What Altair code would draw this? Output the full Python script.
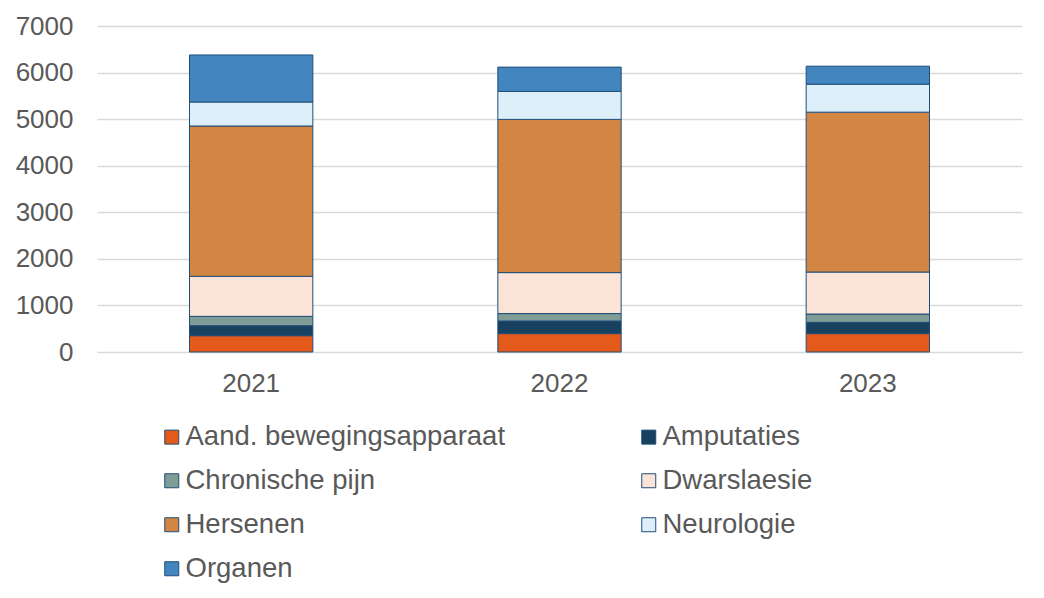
import altair as alt
import pandas as pd

years = ["2021", "2022", "2023"]
categories = ["Aand. bewegingsapparaat", "Amputaties", "Chronische pijn", "Dwarslaesie",
              "Hersenen", "Neurologie", "Organen"]
colors = ["#E35A1A", "#17415F", "#7F9C96", "#FBE3D8", "#D38643", "#DDEFF9", "#4385BE"]
values = {
    "Aand. bewegingsapparaat": [350, 395, 395],
    "Amputaties": [215, 270, 242],
    "Chronische pijn": [200, 160, 178],
    "Dwarslaesie": [860, 880, 902],
    "Hersenen": [3228, 3290, 3433],
    "Neurologie": [515, 600, 601],
    "Organen": [1010, 522, 386],
}

rows = []
for ci, c in enumerate(categories):
    for yi, y in enumerate(years):
        rows.append({"Jaar": y, "Categorie": c, "Aantal": values[c][yi], "Volgorde": ci})
df = pd.DataFrame(rows)

FONT = "Liberation Sans"
GREY = "#595959"

chart = alt.Chart(df).mark_bar(stroke="#1F4E79", strokeWidth=1).encode(
    x=alt.X("Jaar:N", sort=years, title=None,
            scale=alt.Scale(paddingInner=0.6, paddingOuter=0.3),
            axis=alt.Axis(labelAngle=0, labelFontSize=26, labelColor=GREY, labelFont=FONT,
                          ticks=False, domain=False, labelPadding=18, grid=False)),
    y=alt.Y("Aantal:Q", title=None,
            scale=alt.Scale(domain=[0, 7000]),
            axis=alt.Axis(values=list(range(0, 7001, 1000)), format="d", labelFontSize=26,
                          labelColor=GREY, labelFont=FONT, ticks=False, domain=False,
                          labelPadding=24, gridColor="#D9D9D9", gridWidth=1.5)),
    color=alt.Color("Categorie:N", sort=categories,
                    scale=alt.Scale(domain=categories, range=colors),
                    legend=alt.Legend(title=None, orient="none", legendX=61, legendY=397,
                                      direction="horizontal",
                                      columns=2, columnPadding=129, rowPadding=15,
                                      symbolType="square", symbolSize=196,
                                      symbolStrokeColor="#1F4E79", symbolStrokeWidth=1,
                                      labelFontSize=27.5, labelColor=GREY, labelFont=FONT,
                                      labelOffset=0, labelLimit=500)),
    order=alt.Order("Volgorde:Q", sort="ascending"),
).properties(
    width=925, height=326,
    padding={"left": 7, "top": 5, "right": 5, "bottom": 5},
).configure_view(stroke=None)

chart.save("out.html", embed_options={"renderer": "svg", "actions": False})
